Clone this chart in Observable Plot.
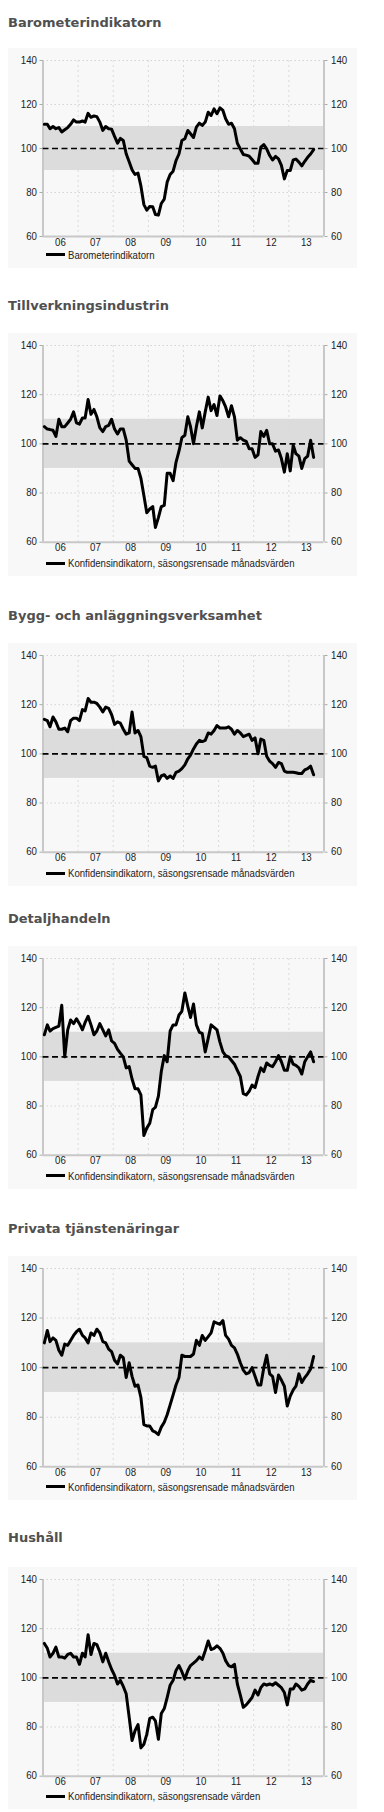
<!DOCTYPE html>
<html>
<head>
<meta charset="utf-8">
<script src="https://cdn.jsdelivr.net/npm/d3@7"></script>
<script src="https://cdn.jsdelivr.net/npm/@observablehq/plot@0.6"></script>
<style>
  html, body { margin: 0; padding: 0; background: #fff; }
  body { width: 384px; height: 1812px; position: relative; overflow: hidden; }
  .title { position: absolute; left: 8px; font: bold 13px "DejaVu Sans", Verdana, sans-serif; line-height: 13px; color: #505050; white-space: nowrap; }
  .box { position: absolute; left: 8px; width: 349px; background: #f8f8f8; }
  .chart { position: absolute; left: 0; }
  .swatch { position: absolute; left: 46px; width: 19px; height: 3px; background: #000; }
  .legend { position: absolute; left: 68px; font: 10.8px "Liberation Sans", Arial, sans-serif; line-height: 11px; color: #222; white-space: nowrap; transform: scaleX(0.89); transform-origin: 0 50%; }
</style>
</head>
<body>
<script>
// ---- data ----
const titles = ["Barometerindikatorn", "Tillverkningsindustrin", "Bygg- och anläggningsverksamhet", "Detaljhandeln", "Privata tjänstenäringar", "Hushåll"];
const legendTexts = ["Barometerindikatorn",
  "Konfidensindikatorn, säsongsrensade månadsvärden",
  "Konfidensindikatorn, säsongsrensade månadsvärden",
  "Konfidensindikatorn, säsongsrensade månadsvärden",
  "Konfidensindikatorn, säsongsrensade månadsvärden",
  "Konfidensindikatorn, säsongsrensade värden"];
const yearLabels = ["06", "07", "08", "09", "10", "11", "12", "13"];
const yTicks = [60, 80, 100, 120, 140];
const normalBand = [90, 110];
const referenceLevel = 100;
const firstYear = 2006;

const barometer = [111, 111, 109, 110, 109, 109.5, 107.5, 108.5, 109.5, 111, 113, 112,
  112, 112.5, 112, 116, 114.2, 114.8, 114.5, 112, 108.2, 110, 109, 108.8,
  105.5, 102.4, 104.6, 103.6, 97.6, 94, 90.3, 88.2, 88.8, 83, 74.5, 72,
  73.6, 73.5, 70, 69.7, 75, 77, 84.7, 88.2, 89.7, 94.5, 97.5, 103.6,
  104.4, 108.2, 106.7, 105, 109.7, 111.5, 110.5, 112, 116.5, 115, 118, 115.8,
  118.5, 117.3, 113.5, 111, 111.5, 109, 102.4, 99.8, 97.3, 97, 96.5, 95,
  93.3, 93.3, 100.6, 101.8, 99.8, 96.8, 94.8, 96.4, 95.3, 92.3, 86.2, 90,
  90, 94.8, 95.2, 93.8, 92.1, 94.2, 96, 97.5, 99.5];
const tillverkning = [107, 106, 105.8, 105.5, 103, 110, 107, 107, 108.5, 110, 113, 108.5,
  108, 110.5, 110.5, 118, 112, 114, 111, 106.5, 105, 107, 107.5, 110,
  106, 104, 106, 106, 101.5, 93, 91.5, 90, 90, 86, 79, 72,
  73.5, 74.5, 66, 70, 74.5, 75, 88, 88, 85, 92.5, 97, 102.5,
  103.5, 111, 107, 100, 107, 113, 106.5, 113, 119, 113.5, 116, 111.5,
  119.5, 117.5, 115, 111, 115.5, 111, 101.5, 102.5, 101.5, 101, 98, 98,
  94.5, 95.5, 105, 103, 105.5, 100, 100, 97, 97.5, 94, 88.5, 96,
  89, 99.5, 96, 95, 90, 94, 95, 101.5, 94.5];
const bygg = [114, 113.5, 111, 115, 113, 110, 110, 110.5, 109, 113.5, 114.5, 114.5,
  113.5, 118, 117.5, 122.5, 121, 121, 120.5, 119, 117, 119, 118.5, 116,
  112, 113, 112.5, 110, 108, 108.5, 117, 108.5, 109.5, 107, 99, 98.5,
  95, 94.5, 95, 89, 91, 91.5, 90, 91, 90, 92.5, 93, 94,
  95.5, 98, 99.5, 102, 104, 105.5, 105, 105.5, 108.5, 108, 109.5, 111.5,
  110.5, 110.5, 110.5, 111, 110, 108, 109.5, 108.5, 107, 107.5, 108, 105.5,
  106.5, 100, 106, 105.5, 99, 97, 96, 94.5, 96.5, 96, 93, 92.5,
  92.5, 92.5, 92.3, 92, 92, 93.5, 94, 95, 91.5];
const detaljhandel = [109, 113, 110.5, 111.5, 112, 112.5, 121, 100, 111, 115, 113.5, 115.5,
  113.5, 111, 114, 116.5, 113, 109, 110.5, 113.5, 111, 108.5, 111, 106.5,
  105.5, 103, 101.5, 100, 95.5, 96, 91, 87, 87, 84.5, 68, 71,
  73, 78.5, 79.5, 84, 94, 100.5, 98, 110.5, 113, 113, 117, 118.5,
  126, 120.5, 116, 121.5, 113, 110, 109.5, 102, 107.5, 113, 112, 111,
  106, 102, 100.5, 100, 98.5, 97, 94.5, 92, 85, 84.5, 86, 88.5,
  87.5, 92, 95.5, 94, 97.5, 96.5, 96, 98, 100.5, 98, 94.5, 94.5,
  100, 97, 96.5, 95.5, 93, 98, 100, 102, 98];
const tjanster = [110, 115, 110.5, 112, 111, 107, 105, 109.5, 109, 111, 113, 114.5,
  115.5, 113, 112, 110, 114, 113, 115.5, 114, 110.5, 110, 107.5, 106.5,
  103, 101.5, 105, 104, 96, 102, 96.5, 92.5, 93, 88, 77, 76.5,
  76.5, 74.5, 74, 73, 76, 78, 81, 85, 89, 93, 96, 105,
  104.5, 104.5, 104.5, 105.5, 111, 109, 113, 111, 112.5, 114, 118.5, 118,
  117.5, 119, 113, 111.5, 109, 108, 105.5, 102, 99, 97.5, 98, 100,
  96.5, 93, 93, 100, 105, 97.5, 96.5, 90, 97, 95, 92.5, 84.5,
  88.5, 91, 92.5, 97.5, 94, 96, 97.5, 99.5, 104.5];
const hushall = [114, 112, 108.5, 110, 112.5, 108.5, 108.5, 108, 109.5, 110, 108.5, 108.5,
  105.5, 110, 108.5, 117.5, 109.5, 114, 113.5, 110.5, 106.5, 110, 106.5, 103.5,
  101, 97.5, 99, 96.5, 93.5, 84, 74.5, 78.5, 81, 71.5, 73, 77,
  83.5, 84, 82.5, 75, 85.5, 87.5, 92, 97, 99, 103, 105, 102.5,
  99.5, 103, 105, 106, 107, 108.5, 107.5, 111, 115, 111.5, 112, 113,
  112, 110, 107, 105, 104.5, 105.5, 97.5, 93, 88, 89, 90.5, 92,
  95, 93, 96, 97.5, 97, 97.5, 97, 98, 97, 96, 94, 89,
  95.5, 95.5, 97.5, 96.5, 95, 95.5, 97.5, 99, 98.5];

const seriesValues = [barometer, tillverkning, bygg, detaljhandel, tjanster, hushall];

// ---- layout (page positions, px) ----
const layout = [
  {titleBase: 27,     plotTop: 60,     plotBottom: 236,    legendY: 254.7},
  {titleBase: 309.5,  plotTop: 345,    plotBottom: 541.7,  legendY: 563.3},
  {titleBase: 620,    plotTop: 655,    plotBottom: 851.7,  legendY: 873.3},
  {titleBase: 922.5,  plotTop: 958.3,  plotBottom: 1155,   legendY: 1175.7},
  {titleBase: 1232.7, plotTop: 1267.7, plotBottom: 1466,   legendY: 1486.7},
  {titleBase: 1542.3, plotTop: 1579,   plotBottom: 1775.7, legendY: 1796}
];
const plotLeft = 42.5, plotRight = 323.5, pageWidth = 384;
const tickTextScale = 0.95;

const x0 = new Date(Date.UTC(firstYear, 0, 1));
const x1 = new Date(Date.UTC(firstYear + yearLabels.length, 0, 1));
const yearStarts = d3.range(1, yearLabels.length).map(k => new Date(Date.UTC(firstYear + k, 0, 1)));
const midYears = yearLabels.map((_, k) => new Date(Date.UTC(firstYear + k, 6, 1)));

function addDiv(cls, styles, text) {
  const d = document.createElement("div");
  d.className = cls;
  Object.assign(d.style, styles);
  if (text != null) d.textContent = text;
  document.body.appendChild(d);
  return d;
}

seriesValues.forEach((values, k) => {
  const L = layout[k];
  const mt = 10, mb = 22;
  const ph = L.plotBottom - L.plotTop;
  const data = values.map((v, i) => ({date: new Date(Date.UTC(firstYear, i, 15)), value: v}));

  addDiv("box", {top: (L.plotTop - 12) + "px", height: (L.legendY + 13 - (L.plotTop - 12)) + "px"});
  addDiv("title", {top: (L.titleBase - 11) + "px"}, titles[k]);

  const chart = Plot.plot({
    width: pageWidth,
    height: ph + mt + mb,
    marginTop: mt,
    marginBottom: mb,
    marginLeft: plotLeft,
    marginRight: pageWidth - plotRight,
    style: {background: "transparent", fontFamily: "'Liberation Sans', Arial, sans-serif", fontSize: "10.2px", color: "#222", overflow: "visible"},
    x: {type: "utc", domain: [x0, x1]},
    y: {domain: [yTicks[0], yTicks[yTicks.length - 1]]},
    marks: [
      Plot.rect([normalBand], {x1: () => x0, x2: () => x1, y1: d => d[0], y2: d => d[1], fill: "#dcdcdc"}),
      Plot.ruleY(yTicks.filter(t => t !== yTicks[0] && t !== referenceLevel), {stroke: "#d4d4d4", strokeDasharray: "1.5,2.5"}),
      Plot.ruleX(yearStarts, {stroke: "#dadada", strokeDasharray: "2,3"}),
      Plot.ruleX([x0, x1], {stroke: "#c8c8c8", strokeWidth: 2}),
      Plot.ruleY([yTicks[0]], {stroke: "#c8c8c8", strokeWidth: 2}),
      Plot.ruleY([referenceLevel], {stroke: "#000", strokeWidth: 1.7, strokeDasharray: "6,3.5"}),
      Plot.axisY(yTicks, {anchor: "left", tickSize: 3, tickPadding: 3, stroke: "#aaa", fill: "#222", label: null}),
      Plot.axisY(yTicks, {anchor: "right", tickSize: 3, tickPadding: 4, stroke: "#aaa", fill: "#222", label: null}),
      Plot.axisX(midYears, {anchor: "bottom", tickSize: 0, tickPadding: 2, fill: "#222", label: null,
        tickFormat: d => yearLabels[d.getUTCFullYear() - firstYear]}),
      Plot.line(data, {x: "date", y: "value", stroke: "#000", strokeWidth: 3, strokeLinejoin: "round"})
    ]
  });
  // narrow the tick labels slightly (the original uses a condensed face)
  d3.select(chart).selectAll("g[aria-label$='tick label'] text").each(function() {
    const x = +(this.getAttribute("x") || 0);
    const prev = this.getAttribute("transform") || "";
    this.setAttribute("transform", `${prev} translate(${x},0) scale(${tickTextScale},1) translate(${-x},0)`);
  });
  chart.classList.add("chart");
  chart.style.position = "absolute";
  chart.style.left = "0px";
  chart.style.top = (L.plotTop - mt) + "px";
  document.body.appendChild(chart);

  addDiv("swatch", {top: (L.legendY - 1.5) + "px"});
  addDiv("legend", {top: (L.legendY - 5) + "px"}, legendTexts[k]);
});
</script>
</body>
</html>
